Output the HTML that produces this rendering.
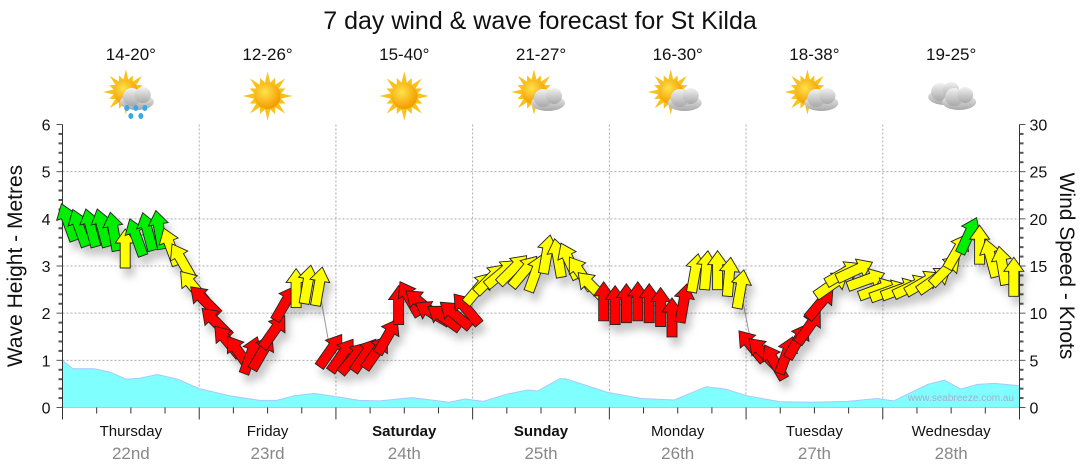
<!DOCTYPE html>
<html><head><meta charset="utf-8"><style>
html,body{margin:0;padding:0;background:#fff;}
svg{display:block;font-family:"Liberation Sans",sans-serif;}
</style></head><body>
<svg id="chart" width="1080" height="475" viewBox="0 0 1080 475" xmlns="http://www.w3.org/2000/svg">
<defs>
<filter id="sh" x="-50%" y="-50%" width="200%" height="200%"><feDropShadow dx="4" dy="8" stdDeviation="4" flood-color="#000" flood-opacity="0.22"/></filter>
<radialGradient id="sunG" cx="40%" cy="35%" r="65%"><stop offset="0" stop-color="#ffe34a"/><stop offset="1" stop-color="#f39a00"/></radialGradient>
<linearGradient id="cloudG" x1="0" y1="0" x2="0" y2="1"><stop offset="0" stop-color="#f2f2f2"/><stop offset="1" stop-color="#a8a8a8"/></linearGradient>
</defs>
<text x="540" y="29" font-size="25" text-anchor="middle" fill="#111">7 day wind &amp; wave forecast for St Kilda</text>
<g id="icons"></g>
<g id="grid"></g>
<g id="wave"></g>
<g id="axes"></g>
<polyline id="windLine" fill="none" stroke="#999" stroke-width="1"/>
<g id="arrows" filter="url(#sh)"></g>
<text x="1014" y="401" font-size="10" text-anchor="end" fill="#aac">www.seabreeze.com.au</text>
<text transform="translate(22,266) rotate(-90)" font-size="21" text-anchor="middle" fill="#111">Wave Height - Metres</text>
<text transform="translate(1060,266) rotate(90)" font-size="21" text-anchor="middle" fill="#111">Wind Speed - Knots</text>
</svg>
<script>
const days=["Thursday","Friday","Saturday","Sunday","Monday","Tuesday","Wednesday"];
const dates=["22nd","23rd","24th","25th","26th","27th","28th"];
const boldDays=[false,false,true,true,false,false,false];
const temps=["14-20°","12-26°","15-40°","21-27°","16-30°","18-38°","19-25°"];
const icons=["sunrain","sun","sun","suncloud","suncloud","suncloud","cloud"];
const windHours=[];for(let i=0;i<84;i++)windHours.push(1+2*i);
const windKnots=[19.6,19,19,19,18.6,16.8,18,18.6,18.8,17,15.5,12.8,
11.3,9,7,5.8,5.5,5.8,8,11,12.6,13,12.8,6.0,
5.5,5.2,5.5,5.8,7.5,10.8,11.5,11,10,9.5,9.8,10.4,
12.6,13.6,14.2,14.6,14.4,14.2,16.2,15.8,15.5,14.2,12.8,11.2,
10.8,11,11.2,11,10.6,9.5,11,14.2,14.5,14.5,13.8,12.5,
6.5,5.8,4.8,5.5,7,8.5,11,13,14.2,14.5,13.5,12.5,
12.3,12.5,12.8,13.2,13.5,14.5,16.5,18.2,17.2,15.8,15,13.8];
const windDir=[-20,-20,-15,-15,-10,0,-20,-15,-10,-20,-30,-40,
-45,-45,-40,-35,20,30,35,30,0,10,10,35,
35,40,35,35,30,0,-30,-50,-60,-55,-50,-40,
40,45,50,45,40,20,10,-10,-25,-35,-45,0,
0,0,0,0,0,0,10,10,5,0,5,10,
-40,-45,-30,20,30,35,40,55,60,65,70,70,
70,70,65,60,55,45,30,25,0,-15,-10,0];
const waveHours=[0,1.8,5.6,8.3,11.2,13.5,16.7,20.2,24,29.3,34.6,37.6,40.7,44.2,48.6,52.1,55.7,61.3,67.9,70.6,73.9,77.9,81.6,83.4,87.3,88.3,95.7,101.6,107.4,113,116.4,120.1,126,131.8,137.8,143,145.9,151.9,154.8,157.7,160.6,163.6,168];
const waveMetres=[1.0,0.82,0.82,0.75,0.6,0.62,0.7,0.6,0.4,0.25,0.15,0.15,0.25,0.3,0.22,0.15,0.14,0.21,0.11,0.18,0.13,0.28,0.37,0.35,0.61,0.61,0.32,0.19,0.16,0.44,0.39,0.25,0.12,0.11,0.13,0.19,0.14,0.49,0.58,0.39,0.49,0.51,0.46];
const metreTicks=[0,1,2,3,4,5,6];
const knotTicks=[0,5,10,15,20,25,30];

const NS="http://www.w3.org/2000/svg";
const X0=62.5,X1=1019.5,Y0=407.5,Y1=124.5;
const xH=h=>X0+(X1-X0)*h/168;
const yM=m=>Y0-(Y0-Y1)*m/6;
const yK=k=>Y0-(Y0-Y1)*k/30;
function mk(tag,attrs,parent){const e=document.createElementNS(NS,tag);for(const k in attrs)e.setAttribute(k,attrs[k]);parent.appendChild(e);return e;}
const grid=document.getElementById('grid'),axes=document.getElementById('axes');
metreTicks.forEach(m=>{
  if(m>0&&m<6){const l=mk('line',{x1:X0,x2:X1,y1:yM(m),y2:yM(m),stroke:'#aaa','stroke-dasharray':'2,2'},grid);
  
  }
  const t=mk('text',{x:X0-12,y:yM(m)+6,'font-size':16,'text-anchor':'end',fill:'#111'},axes);t.textContent=m;
  
  
});
for(let i=0;i<=30;i++){const m=i/5;mk('line',{x1:X0-(i%5==0?6:4),x2:X0,y1:yM(m),y2:yM(m),stroke:'#555','stroke-width':i%5==0?1:2},axes);}
knotTicks.forEach(k=>{const t=mk('text',{x:X1+10,y:yK(k)+6,'font-size':16,fill:'#111'},axes);t.textContent=k;
  
  });
for(let k=0;k<=30;k++){mk('line',{x1:X1,x2:X1+(k%5==0?6:4),y1:yK(k),y2:yK(k),stroke:'#555','stroke-width':k%5==0?1:2},axes);}
for(let d=1;d<7;d++){const l=mk('line',{x1:xH(d*24),x2:xH(d*24),y1:Y1,y2:Y0,stroke:'#aaa','stroke-dasharray':'2,2'},grid);
  
  }
for(let h=0;h<=168;h+=6){mk('line',{x1:xH(h),x2:xH(h),y1:Y0,y2:Y0+(h%24==0?12:6),stroke:'#333'},axes);}
mk('line',{x1:X0,x2:X0,y1:Y1,y2:Y0,stroke:'#333'},axes);
mk('line',{x1:X1,x2:X1,y1:Y1,y2:Y0,stroke:'#333'},axes);
days.forEach((d,i)=>{const cx=xH(i*24+12);
  const t=mk('text',{x:cx,y:436,'font-size':15,'text-anchor':'middle',fill:'#111','font-weight':boldDays[i]?'bold':'normal'},axes);t.textContent=d;
  
  
  const t2=mk('text',{x:cx,y:459,'font-size':17,'text-anchor':'middle',fill:'#888'},axes);t2.textContent=dates[i];
  
  
});
const wg=document.getElementById('wave');
let d='M'+xH(waveHours[0])+','+Y0;
waveHours.forEach((h,i)=>{d+=' L'+xH(h).toFixed(1)+','+yM(waveMetres[i]).toFixed(1);});
d+=' L'+xH(waveHours[waveHours.length-1])+','+Y0+' Z';
const wp=mk('path',{d:d,fill:'#80ffff',stroke:'#a8c8ff','stroke-width':1},wg);


document.getElementById('windLine').setAttribute('points',windHours.map((h,i)=>xH(h).toFixed(1)+','+yK(windKnots[i]).toFixed(1)).join(' '));
const ag=document.getElementById('arrows');
windHours.forEach((h,i)=>{const k=windKnots[i];
  const col=k>=17.5?'#00ee00':(k>=12?'#ffff00':'#ff0000');
  const a=mk('path',{d:'M0,-20 L10,-6 L5,-6 L5,19 L-5,19 L-5,-6 L-10,-6 Z',fill:col,stroke:'#222','stroke-width':0.9,'stroke-linejoin':'miter',
    transform:'translate('+xH(h).toFixed(1)+','+yK(k).toFixed(1)+') rotate('+windDir[i]+')'},ag);
  
  
});
const ig=document.getElementById('icons');
function sun(g,cx,cy,r){let p='';for(let j=0;j<32;j++){const ang=j*Math.PI/16;const rr=j%2==0?(j%4==0?r*1.9:r*1.5):r*1.05;p+=(cx+rr*Math.sin(ang)).toFixed(1)+','+(cy-rr*Math.cos(ang)).toFixed(1)+' ';}
  mk('polygon',{points:p,fill:'#f7c31a'},g);mk('circle',{cx:cx,cy:cy,r:r,fill:'url(#sunG)'},g);}
function cloud(g,cx,cy){mk('ellipse',{cx:cx,cy:cy+4,rx:17,ry:8,fill:'url(#cloudG)'},g);mk('circle',{cx:cx-5,cy:cy-1,r:9,fill:'url(#cloudG)'},g);mk('circle',{cx:cx+6,cy:cy-3,r:8,fill:'url(#cloudG)'},g);}
temps.forEach((t,i)=>{const cx=xH(i*24+12);
  const tt=mk('text',{x:cx,y:60,'font-size':17,'text-anchor':'middle',fill:'#111'},ig);tt.textContent=t;
  
  
  const g=mk('g',{},ig);
  
  
  const ic=icons[i];
  if(ic==='sun'){sun(g,cx,96,13);}
  else if(ic==='sunrain'){sun(g,cx-5,92,12);cloud(g,cx+6,98);[[-4,108],[5,108],[14,108],[0,116],[10,116]].forEach(p=>mk('ellipse',{cx:cx+p[0],cy:p[1],rx:2.5,ry:3,fill:'#3aa8e8'},g));}
  else if(ic==='suncloud'){sun(g,cx-7,92,12);cloud(g,cx+7,99);}
  else {cloud(g,cx-6,93);cloud(g,cx+8,98);}
});
</script>
</body></html>
